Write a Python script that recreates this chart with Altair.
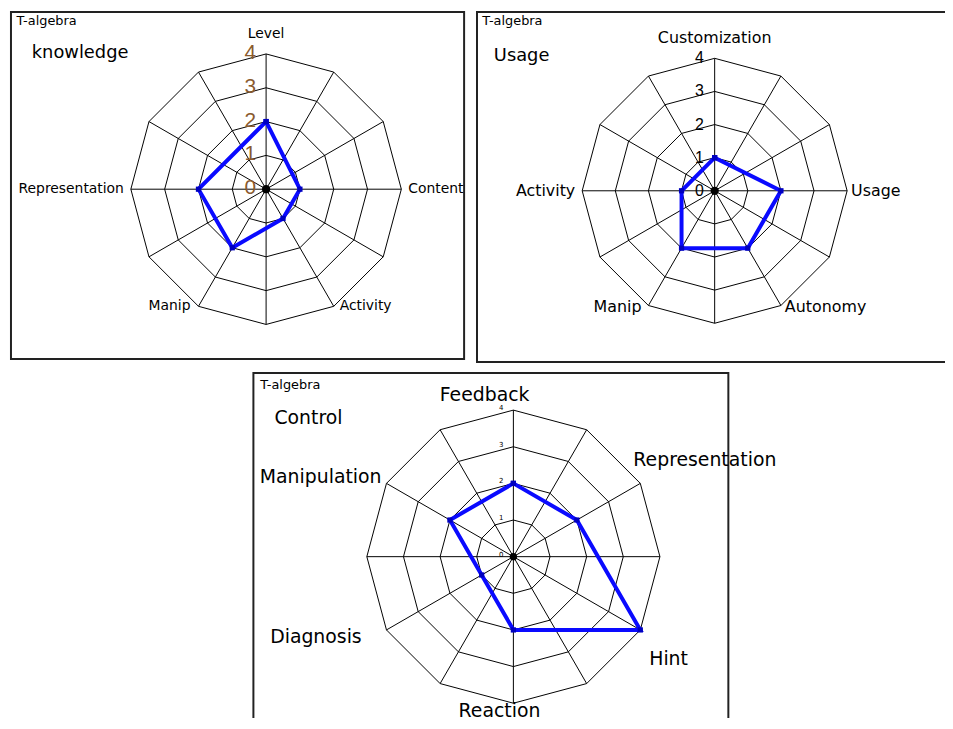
import math
import altair as alt
import pandas as pd

# ---------------- data ----------------
HEADER = "T-algebra"
TITLES = ["knowledge", "Usage", "Control"]

K_AXES = ["Level", "Content", "Activity", "Manip", "Representation"]
K_VALUES = [2, 1, 1, 2, 2]

U_AXES = ["Customization", "Usage", "Autonomy", "Manip", "Activity"]
U_VALUES = [1, 2, 2, 2, 1]

C_AXES = ["Feedback", "Representation", "Hint", "Reaction", "Diagnosis", "Manipulation"]
C_VALUES = [2, 2, 4, 2, 1, 2]

TICKS = [0, 1, 2, 3, 4]
N_SPOKES = 12

# ---------------- layout (page pixels) ----------------
LAYOUT = [
    dict(axes=K_AXES, values=K_VALUES, spokes=[0, 3, 5, 7, 9],
         cx=268.3, cy=187.7, unit=34.1, label_size=14,
         place=[("center", 0, -20), ("left", 7, 0), ("left", 6, 0), ("right", -8, 0), ("right", -7, 0)],
         tick_size=21, tick_color="#8a5a2e", tick_font="Liberation Sans", tick_dx=-10, tick_dy=-1,
         title=(32, 50, 18), header=(16.5, 18), dot=70,
         box=(11, 9, 468, 359)),
    dict(axes=U_AXES, values=U_VALUES, spokes=[0, 3, 5, 7, 9],
         cx=720.7, cy=189.3, unit=33.4, label_size=16,
         place=[("center", 0, -20), ("left", 4, 0), ("left", 4, 2), ("right", -7, 2), ("right", -7, 0)],
         tick_size=16, tick_color="black", tick_font="Liberation Sans", tick_dx=-11, tick_dy=0,
         title=(498, 53.3, 18), header=(486.3, 18.3), dot=70,
         box=(481, 9, 1000, 362)),
    dict(axes=C_AXES, values=C_VALUES, spokes=[0, 2, 4, 6, 8, 10],
         cx=517.7, cy=558.3, unit=36.95, label_size=19,
         place=[("center", -29, -15), ("left", -7, -24), ("left", 9, 29), ("center", -14, 8),
                ("right", -25, 7), ("right", -5, -6)],
         tick_size=7, tick_color="black", tick_font="DejaVu Sans", tick_dx=-10, tick_dy=-2,
         title=(276.7, 418.3, 19), header=(262.3, 385), dot=55,
         box=(255.5, 373, 734.5, 800)),
]

W, H = 945, 713
XS = alt.Scale(domain=[8, 8 + W], nice=False, zero=False)
YS = alt.Scale(domain=[8, 8 + H], nice=False, zero=False, reverse=True)


def pt(L, r, s):
    th = math.radians(90 - 360 / N_SPOKES * s)
    return L["cx"] + r * L["unit"] * math.cos(th), L["cy"] - r * L["unit"] * math.sin(th)


rings, spokes, poly, dots, texts, boxes = [], [], [], [], [], []
rmax = max(TICKS)
for p, L in enumerate(LAYOUT):
    for r in TICKS[1:]:
        for s in range(N_SPOKES + 1):
            x, y = pt(L, r, s % N_SPOKES)
            rings.append(dict(key=f"{p}-{r}", o=s, x=x, y=y))
    for s in range(N_SPOKES):
        x2, y2 = pt(L, rmax, s)
        spokes.append(dict(x=L["cx"], y=L["cy"], x2=x2, y2=y2))
    n = len(L["axes"])
    for i in range(n + 1):
        j = i % n
        x, y = pt(L, L["values"][j], L["spokes"][j])
        poly.append(dict(key=str(p), o=i, x=x, y=y, axis=L["axes"][j], value=L["values"][j]))
    dots.append(dict(x=L["cx"], y=L["cy"], size=L["dot"]))
    # axis labels
    for name, s, (al, dx, dy) in zip(L["axes"], L["spokes"], L["place"]):
        x, y = pt(L, rmax, s)
        texts.append(dict(x=x + dx, y=y + dy, text=name, align=al, size=L["label_size"],
                          color="black", font="DejaVu Sans"))
    # tick labels
    for r in TICKS:
        texts.append(dict(x=L["cx"] + L["tick_dx"], y=L["cy"] - r * L["unit"] + L["tick_dy"],
                          text=str(r), align="right", size=L["tick_size"],
                          color=L["tick_color"], font=L["tick_font"]))
    tx, ty, ts = L["title"]
    texts.append(dict(x=tx, y=ty, text=TITLES[p], align="left", size=ts, color="black",
                      font="DejaVu Sans"))
    hx, hy = L["header"]
    texts.append(dict(x=hx, y=hy, text=HEADER, align="left", size=13, color="black",
                      font="DejaVu Sans"))
    bx, by, bx2, by2 = L["box"]
    boxes.append(dict(x=bx, y=by, x2=bx2, y2=by2))

X = alt.X("x:Q", scale=XS, axis=None)
Y = alt.Y("y:Q", scale=YS, axis=None)

layers = []
layers.append(
    alt.Chart(pd.DataFrame(boxes)).mark_rect(filled=False, stroke="#222222", strokeWidth=2, clip=True)
    .encode(x=X, y=Y, x2="x2:Q", y2="y2:Q")
)
layers.append(
    alt.Chart(pd.DataFrame(spokes)).mark_rule(color="black", strokeWidth=1)
    .encode(x=X, y=Y, x2="x2:Q", y2="y2:Q")
)
layers.append(
    alt.Chart(pd.DataFrame(rings)).mark_line(color="black", strokeWidth=1)
    .encode(x=X, y=Y, detail="key:N", order="o:Q")
)
layers.append(
    alt.Chart(pd.DataFrame(poly)).mark_line(color="#0a0aff", strokeWidth=4, strokeJoin="miter")
    .encode(x=X, y=Y, detail="key:N", order="o:Q")
)
layers.append(
    alt.Chart(pd.DataFrame(poly)).mark_point(shape="square", filled=True, color="#0000c0", size=28, opacity=1)
    .encode(x=X, y=Y)
)
layers.append(
    alt.Chart(pd.DataFrame(dots)).mark_circle(color="black", opacity=1)
    .encode(x=X, y=Y, size=alt.Size("size:Q", scale=None, legend=None))
)

tdf = pd.DataFrame(texts)
for (al, sz, col, fnt), g in tdf.groupby(["align", "size", "color", "font"]):
    layers.append(
        alt.Chart(g).mark_text(align=al, baseline="middle", fontSize=float(sz), color=col, font=fnt)
        .encode(x=X, y=Y, text="text:N")
    )

chart = alt.layer(*layers).properties(
    width=W, height=H, autosize=alt.AutoSizeParams(type="none"), padding=0
).configure_view(strokeWidth=0)

chart.save("out.html", embed_options={"renderer": "svg", "actions": False})
